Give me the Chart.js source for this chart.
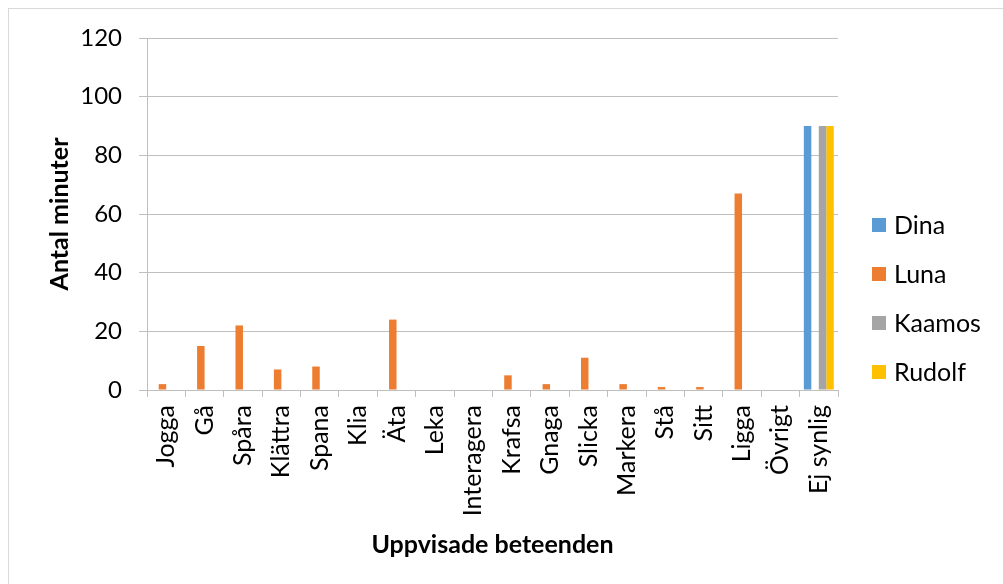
<!DOCTYPE html>
<html>
<head>
<meta charset="utf-8">
<script src="https://cdn.jsdelivr.net/npm/chart.js@4.4.1/dist/chart.umd.min.js"></script>
<style>
  html, body { margin: 0; padding: 0; background: #fff; }
  #wrap { width: 1003px; height: 584px; position: relative; }
</style>
</head>
<body>
<div id="wrap"><canvas id="c" width="1003" height="584"></canvas></div>
<script>
// Behaviour categories (x axis)
const categories = ['Jogga', 'Gå', 'Spåra', 'Klättra', 'Spana', 'Klia', 'Äta', 'Leka',
  'Interagera', 'Krafsa', 'Gnaga', 'Slicka', 'Markera', 'Stå', 'Sitt', 'Ligga', 'Övrigt', 'Ej synlig'];

// Minutes per behaviour for each animal
const dina   = [0, 0, 0, 0, 0, 0, 0, 0, 0, 0, 0, 0, 0, 0, 0, 0, 0, 90];
const luna   = [2, 15, 22, 7, 8, 0, 24, 0, 0, 5, 2, 11, 2, 1, 1, 67, 0, 0];
const kaamos = [0, 0, 0, 0, 0, 0, 0, 0, 0, 0, 0, 0, 0, 0, 0, 0, 0, 90];
const rudolf = [0, 0, 0, 0, 0, 0, 0, 0, 0, 0, 0, 0, 0, 0, 0, 0, 0, 90];

const seriesNames = ['Dina', 'Luna', 'Kaamos', 'Rudolf'];
const seriesColors = ['#5B9BD5', '#ED7D31', '#A5A5A5', '#FFC000'];

// Y axis ticks
const yMin = 0, yMax = 120, yStep = 20;

const FONT = 'Lato, "Open Sans", sans-serif';
const axisGray = '#BFBFBF';

// Frame around the whole chart object
const framePlugin = {
  id: 'frame',
  beforeDraw(chart) {
    const ctx = chart.ctx;
    ctx.save();
    ctx.fillStyle = '#fff';
    ctx.fillRect(0, 0, chart.width, chart.height);
    ctx.strokeStyle = '#D9D9D9';
    ctx.lineWidth = 1;
    ctx.strokeRect(8.5, 8.5, chart.width + 10, chart.height + 10);
    ctx.restore();
  }
};

// Legend on the right, one entry per dataset
const sideLegend = {
  id: 'sideLegend',
  afterDraw(chart) {
    const ctx = chart.ctx;
    const x0 = 872, yStart = 225, gap = 49, box = 14;
    ctx.save();
    ctx.font = '25px ' + FONT;
    ctx.textBaseline = 'middle';
    ctx.textAlign = 'left';
    chart.data.datasets.forEach((ds, i) => {
      const y = yStart + i * gap;
      ctx.fillStyle = ds.backgroundColor;
      ctx.fillRect(x0, y - box / 2, box, box);
      ctx.fillStyle = '#000';
      ctx.fillText(ds.label, x0 + 22, y + 1);
    });
    ctx.restore();
  }
};

const datasets = [dina, luna, kaamos, rudolf].map((vals, i) => ({
  label: seriesNames[i],
  data: vals,
  backgroundColor: seriesColors[i],
  borderWidth: 0,
  categoryPercentage: 0.78,
  barPercentage: 1.0
}));

new Chart(document.getElementById('c'), {
  type: 'bar',
  data: { labels: categories, datasets },
  options: {
    responsive: false,
    animation: false,
    devicePixelRatio: 1,
    layout: { padding: { left: 0, top: 38, right: 165, bottom: 0 } },
    plugins: { legend: { display: false }, tooltip: { enabled: false } },
    scales: {
      x: {
        grid: { display: true, drawOnChartArea: false, drawTicks: true, tickLength: 7, color: axisGray, offset: true },
        border: { display: true, color: axisGray, width: 1 },
        ticks: {
          color: '#000', font: { family: FONT, size: 25 },
          minRotation: 90, maxRotation: 90, padding: 8, autoSkip: false
        },
        title: {
          display: true, text: 'Uppvisade beteenden', color: '#000',
          font: { family: FONT, size: 25, weight: 'bold' },
          padding: { top: 0, bottom: 24 }
        },
        afterFit(scale) { scale.height = 194; }
      },
      y: {
        min: yMin, max: yMax,
        grid: { color: axisGray, tickLength: 8, drawTicks: true },
        border: { display: true, color: axisGray, width: 1 },
        ticks: { stepSize: yStep, color: '#000', font: { family: FONT, size: 24 }, padding: 17 },
        title: {
          display: true, text: 'Antal minuter', color: '#000',
          font: { family: FONT, size: 25, weight: 'bold' },
          padding: { top: 45, bottom: 0 }
        },
        afterFit(scale) { scale.width = 147; }
      }
    }
  },
  plugins: [framePlugin, sideLegend]
});
</script>
</body>
</html>
